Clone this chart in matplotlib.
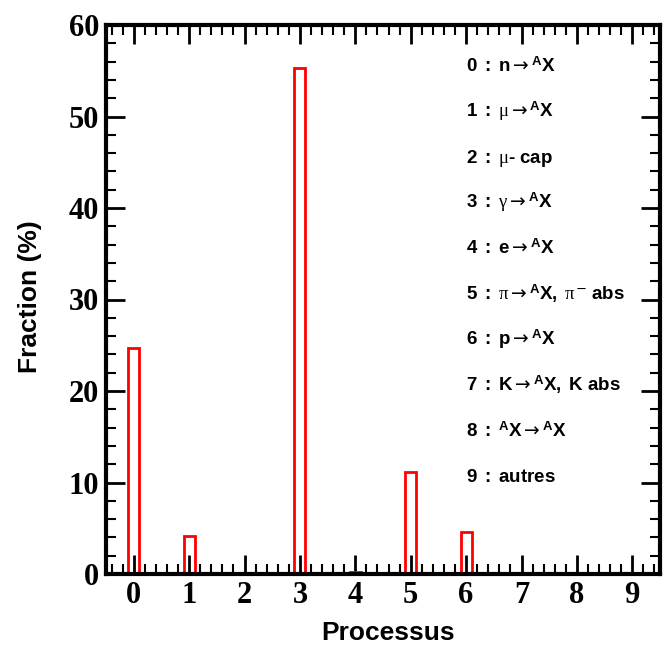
import matplotlib
matplotlib.use("Agg")
import matplotlib.pyplot as plt
import numpy as np
from matplotlib.ticker import MultipleLocator

# fraction (%) for each process 0..9
processes = [0, 1, 2, 3, 4, 5, 6, 7, 8, 9]
fractions = [24.7, 4.1, 0.0, 55.3, 0.2, 11.1, 4.6, 0.0, 0.0, 0.0]

labels = [
    r"$\mathbf{0\ :\ n}\rightarrow{}^{\mathbf{A}}\mathbf{X}$",
    r"$\mathbf{1\ :\ }\mu\rightarrow{}^{\mathbf{A}}\mathbf{X}$",
    r"$\mathbf{2\ :\ }\mu{\mathbf{‐}}\mathbf{\ cap}$",
    r"$\mathbf{3\ :\ }\gamma\rightarrow{}^{\mathbf{A}}\mathbf{X}$",
    r"$\mathbf{4\ :\ e}\rightarrow{}^{\mathbf{A}}\mathbf{X}$",
    r"$\mathbf{5\ :\ }\pi\rightarrow{}^{\mathbf{A}}\mathbf{X,\ }\pi^{-}\mathbf{\ abs}$",
    r"$\mathbf{6\ :\ p}\rightarrow{}^{\mathbf{A}}\mathbf{X}$",
    r"$\mathbf{7\ :\ K}\rightarrow{}^{\mathbf{A}}\mathbf{X,\ K\ abs}$",
    r"$\mathbf{8\ :\ }{}^{\mathbf{A}}\mathbf{X}\rightarrow{}^{\mathbf{A}}\mathbf{X}$",
    r"$\mathbf{9\ :\ autres}$",
]

plt.rcParams['mathtext.fontset'] = 'custom'
plt.rcParams['mathtext.rm'] = 'DejaVu Sans'
plt.rcParams['mathtext.bf'] = 'Liberation Sans:bold'
plt.rcParams['mathtext.it'] = 'Liberation Serif'

# 50 bins of width 0.2 from -0.5 to 9.5, one filled bin per process
edges = np.linspace(-0.5, 9.5, 51)
counts = np.zeros(50)
for p, f in zip(processes, fractions):
    counts[5 * p + 2] = f

fig = plt.figure(figsize=(6.64, 6.48), dpi=100)
ax = fig.add_axes([106 / 664, 1 - 574 / 648, 554 / 664, 549 / 648])

ax.stairs(counts, edges, color='red', lw=2, baseline=0, fill=False, zorder=3)

ax.set_xlim(-0.5, 9.5)
ax.set_ylim(0, 60)
ax.xaxis.set_major_locator(MultipleLocator(1))
ax.xaxis.set_minor_locator(MultipleLocator(0.2))
ax.yaxis.set_major_locator(MultipleLocator(10))
ax.yaxis.set_minor_locator(MultipleLocator(2))

for s in ax.spines.values():
    s.set_linewidth(3)
    s.set_zorder(4)
ax.tick_params(which='both', direction='in', top=True, right=True)
ax.tick_params(which='major', length=14, width=2)
ax.tick_params(which='minor', length=7, width=1.5)
ax.tick_params(axis='x', which='major', pad=5, labelsize=22)
ax.tick_params(axis='y', which='major', pad=5, labelsize=22)
for t in ax.get_xticklabels() + ax.get_yticklabels():
    t.set_fontfamily('Liberation Serif')
    t.set_fontweight('bold')

fig.text(388 / 664, 1 - 633 / 648, "Processus", ha='center', va='center',
         fontsize=19, fontweight='bold', family='Liberation Sans')
fig.text(30 / 664, 1 - 297 / 648, "Fraction (%)", ha='center', va='center',
         rotation=90, fontsize=19, fontweight='bold', family='Liberation Sans')

base = [72, 117, 163, 208, 254, 300, 345, 391, 437, 482]
for lab, yb in zip(labels, base):
    fig.text(466 / 664, 1 - yb / 648, lab, ha='left', va='baseline', fontsize=13.5)

fig.savefig("out.png", dpi=100)
